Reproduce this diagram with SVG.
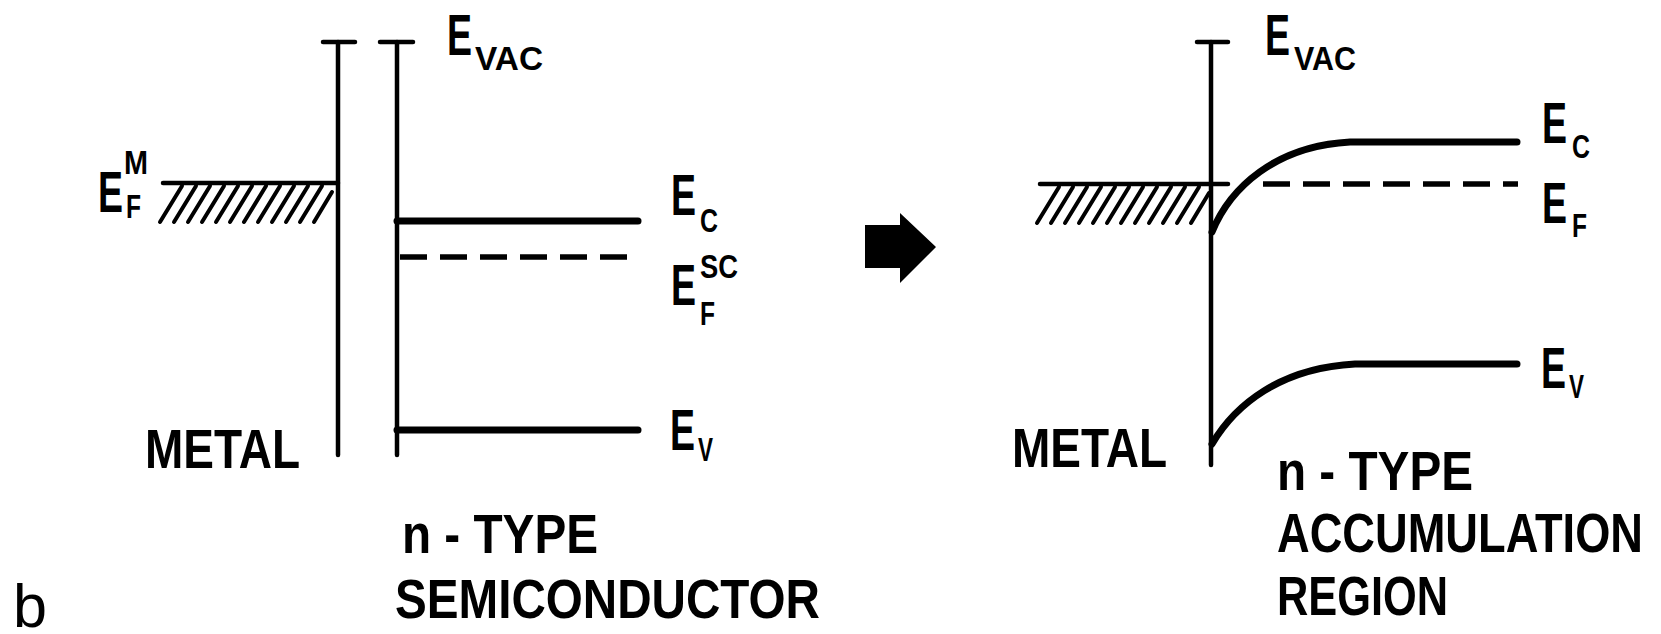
<svg xmlns="http://www.w3.org/2000/svg" width="1661" height="634" viewBox="0 0 1661 634">
<style>
text{font-family:"Liberation Sans",Arial,sans-serif;fill:#000;font-weight:bold}
.big{font-size:58px}
.sub{font-size:34px}
.lbl{font-size:56px}
.ax{stroke:#000;stroke-width:4.5;fill:none;stroke-linecap:round}
.lvl{stroke:#000;stroke-width:7;fill:none;stroke-linecap:round}
.dash{stroke:#000;stroke-width:5.5;fill:none;stroke-dasharray:27 13}
.hatch{stroke:#000;stroke-width:4;stroke-linecap:round}
</style>
<rect width="1661" height="634" fill="#fff"/>
<defs>
<g id="hatchset">
<line class="hatch" x1="0" y1="39" x2="22" y2="3"/>
<line class="hatch" x1="14" y1="39" x2="36" y2="3"/>
<line class="hatch" x1="28" y1="39" x2="50" y2="3"/>
<line class="hatch" x1="42" y1="39" x2="64" y2="3"/>
<line class="hatch" x1="56" y1="39" x2="78" y2="3"/>
<line class="hatch" x1="70" y1="39" x2="92" y2="3"/>
<line class="hatch" x1="84" y1="39" x2="106" y2="3"/>
<line class="hatch" x1="98" y1="39" x2="120" y2="3"/>
<line class="hatch" x1="112" y1="39" x2="134" y2="3"/>
<line class="hatch" x1="126" y1="39" x2="148" y2="3"/>
<line class="hatch" x1="140" y1="39" x2="162" y2="3"/>
<line class="hatch" x1="154" y1="39" x2="172" y2="9"/>
</g>
</defs>

<g id="left-metal">
<line class="ax" x1="338" y1="42" x2="338" y2="455"/>
<line class="ax" x1="323" y1="42" x2="355" y2="42"/>
<line class="ax" x1="163" y1="183" x2="338" y2="183"/>
<use href="#hatchset" x="160" y="183"/>
<text class="big" x="98" y="212" textLength="25" lengthAdjust="spacingAndGlyphs">E</text>
<text class="sub" x="124" y="174" textLength="24" lengthAdjust="spacingAndGlyphs">M</text>
<text class="sub" x="126" y="218" textLength="15" lengthAdjust="spacingAndGlyphs">F</text>
<text class="lbl" x="145" y="468" textLength="155" lengthAdjust="spacingAndGlyphs">METAL</text>
</g>

<g id="left-semiconductor">
<line class="ax" x1="397" y1="42" x2="397" y2="455"/>
<line class="ax" x1="380" y1="42" x2="413" y2="42"/>
<text class="big" x="447" y="55" textLength="25" lengthAdjust="spacingAndGlyphs">E</text>
<text class="sub" x="475" y="70" textLength="68" lengthAdjust="spacingAndGlyphs">VAC</text>
<line class="lvl" x1="397" y1="221" x2="638" y2="221"/>
<line class="dash" x1="400" y1="257" x2="640" y2="257"/>
<line class="lvl" x1="397" y1="430" x2="638" y2="430"/>
<text class="big" x="671" y="215" textLength="25" lengthAdjust="spacingAndGlyphs">E</text>
<text class="sub" x="700" y="232" textLength="18" lengthAdjust="spacingAndGlyphs">C</text>
<text class="big" x="671" y="305" textLength="25" lengthAdjust="spacingAndGlyphs">E</text>
<text class="sub" x="700" y="278" textLength="38" lengthAdjust="spacingAndGlyphs">SC</text>
<text class="sub" x="700" y="325" textLength="15" lengthAdjust="spacingAndGlyphs">F</text>
<text class="big" x="670" y="450" textLength="25" lengthAdjust="spacingAndGlyphs">E</text>
<text class="sub" x="698" y="461" textLength="15" lengthAdjust="spacingAndGlyphs">V</text>
<text class="lbl" x="402" y="553" textLength="196" lengthAdjust="spacingAndGlyphs">n - TYPE</text>
<text class="lbl" x="395" y="618" textLength="425" lengthAdjust="spacingAndGlyphs">SEMICONDUCTOR</text>
</g>

<g id="label-b">
<text x="13" y="627" style="font-size:62px;font-weight:normal" textLength="34" lengthAdjust="spacingAndGlyphs">b</text>
</g>

<g id="connectors">
<polygon points="865,225 900,225 900,213 936,247 900,283 900,268 865,268" fill="#000"/>
</g>

<g id="right-junction">
<line class="ax" x1="1211" y1="42" x2="1211" y2="465"/>
<line class="ax" x1="1197" y1="42" x2="1228" y2="42"/>
<line class="ax" x1="1040" y1="184" x2="1228" y2="184"/>
<use href="#hatchset" x="1037" y="184"/>
<text class="big" x="1265" y="55" textLength="25" lengthAdjust="spacingAndGlyphs">E</text>
<text class="sub" x="1294" y="70" textLength="62" lengthAdjust="spacingAndGlyphs">VAC</text>
<path class="lvl" d="M1212,232 C1230,188 1275,146 1350,142 L1517,142"/>
<line class="dash" x1="1263" y1="184" x2="1518" y2="184"/>
<path class="lvl" d="M1212,444 C1235,405 1280,368 1355,364 L1517,364"/>
<text class="big" x="1542" y="143" textLength="25" lengthAdjust="spacingAndGlyphs">E</text>
<text class="sub" x="1572" y="158" textLength="18" lengthAdjust="spacingAndGlyphs">C</text>
<text class="big" x="1542" y="223" textLength="25" lengthAdjust="spacingAndGlyphs">E</text>
<text class="sub" x="1572" y="237" textLength="15" lengthAdjust="spacingAndGlyphs">F</text>
<text class="big" x="1541" y="388" textLength="25" lengthAdjust="spacingAndGlyphs">E</text>
<text class="sub" x="1569" y="398" textLength="15" lengthAdjust="spacingAndGlyphs">V</text>
<text class="lbl" x="1012" y="467" textLength="155" lengthAdjust="spacingAndGlyphs">METAL</text>
<text class="lbl" x="1277" y="490" textLength="196" lengthAdjust="spacingAndGlyphs">n - TYPE</text>
<text class="lbl" x="1277" y="552" textLength="366" lengthAdjust="spacingAndGlyphs">ACCUMULATION</text>
<text class="lbl" x="1277" y="615" textLength="171" lengthAdjust="spacingAndGlyphs">REGION</text>
</g>
</svg>
